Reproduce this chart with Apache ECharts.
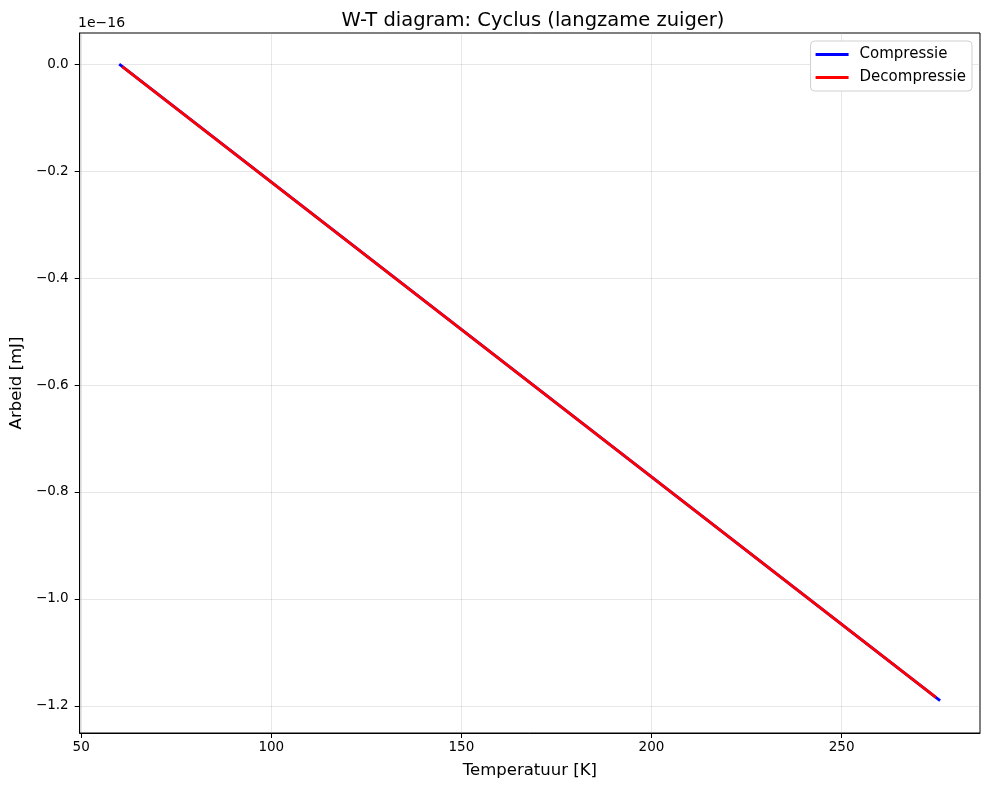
<!DOCTYPE html>
<html>
<head>
    <meta charset="utf-8">
    <title>W-T diagram</title>
    <script src="https://cdn.jsdelivr.net/npm/echarts@6/dist/echarts.min.js"></script>
</head>
<body style="margin:0">
    <div id="main" style="width: 989px;height:790px;"></div>
    <script type="text/javascript">
        // arbeid in eenheden van 1e-16 mJ
        var compressieT = [60.0, 275.9];
        var compressieW = [0.0, -1.19];
        var decompressieT = [60.8, 274.8];
        var decompressieW = [-0.005, -1.184];
        var xTicks = [50, 100, 150, 200, 250];
        var yTicks = [0.0, -0.2, -0.4, -0.6, -0.8, -1.0, -1.2];

        function pairs(xs, ys) {
            var out = [];
            for (var i = 0; i < xs.length; i++) out.push([xs[i], ys[i]]);
            return out;
        }
        function minus(s) { return String(s).replace('-', '\u2212'); }

        var font = 'DejaVu Sans';
        var myChart = echarts.init(document.getElementById('main'));
        var option = {
            backgroundColor: '#fff',
            animation: false,
            textStyle: { fontFamily: font },
            title: {
                text: 'W-T diagram: Cyclus (langzame zuiger)',
                left: 528, top: 6, textAlign: 'center',
                textStyle: { fontFamily: font, fontSize: 19.5, fontWeight: 'normal', color: '#000' }
            },
            legend: {
                orient: 'vertical', right: 17, top: 41,
                backgroundColor: '#fff', borderColor: '#d0d0d0', borderWidth: 1, borderRadius: 4,
                padding: [6, 6, 6, 5], itemGap: 8,
                itemWidth: 33, itemHeight: 2.8, icon: 'rect',
                textStyle: { fontFamily: font, fontSize: 15, color: '#000', padding: [0, 0, 0, 6] },
                data: ['Compressie', 'Decompressie']
            },
            graphic: [{
                type: 'text', left: 78, top: 16,
                style: { text: '1e\u221216', font: '14px "DejaVu Sans"', fill: '#000' }
            }],
            grid: {
                left: 78, right: 9, top: 33, bottom: 57,
                show: true, borderColor: '#000', borderWidth: 1, backgroundColor: 'transparent'
            },
            xAxis: {
                type: 'value', min: 49.6, max: 286.4,
                name: 'Temperatuur [K]', nameLocation: 'middle', nameGap: 29,
                nameTextStyle: { fontFamily: font, fontSize: 16.5, color: '#000' },
                axisLine: { onZero: false, lineStyle: { color: '#000', width: 1 } },
                axisTick: { customValues: xTicks, length: 5, lineStyle: { color: '#000' } },
                axisLabel: { customValues: xTicks, margin: 7, fontSize: 13.5, color: '#000', fontFamily: font },
                splitLine: { show: true, lineStyle: { color: 'rgba(176,176,176,0.3)', width: 1 } }
            },
            yAxis: {
                type: 'value', min: -1.2505, max: 0.058,
                name: 'Arbeid [mJ]', nameLocation: 'middle', nameGap: 52,
                nameTextStyle: { fontFamily: font, fontSize: 16.5, color: '#000' },
                axisLine: { onZero: false, lineStyle: { color: '#000', width: 1 } },
                axisTick: { customValues: yTicks, length: 5, lineStyle: { color: '#000' } },
                axisLabel: {
                    customValues: yTicks, margin: 11, fontSize: 13.5, color: '#000', fontFamily: font,
                    formatter: function (v) { return minus(v.toFixed(1)); }
                },
                splitLine: { show: true, lineStyle: { color: 'rgba(176,176,176,0.3)', width: 1 } }
            },
            series: [{
                name: 'Compressie', type: 'line', showSymbol: false, symbol: 'none',
                itemStyle: { color: '#0000ff' },
                lineStyle: { color: '#0000ff', width: 2.8 },
                data: pairs(compressieT, compressieW)
            }, {
                name: 'Decompressie', type: 'line', showSymbol: false, symbol: 'none',
                itemStyle: { color: '#ff0000' },
                lineStyle: { color: '#ff0000', width: 2.8 },
                data: pairs(decompressieT, decompressieW)
            }]
        };
        myChart.setOption(option);
    </script>
</body>
</html>
